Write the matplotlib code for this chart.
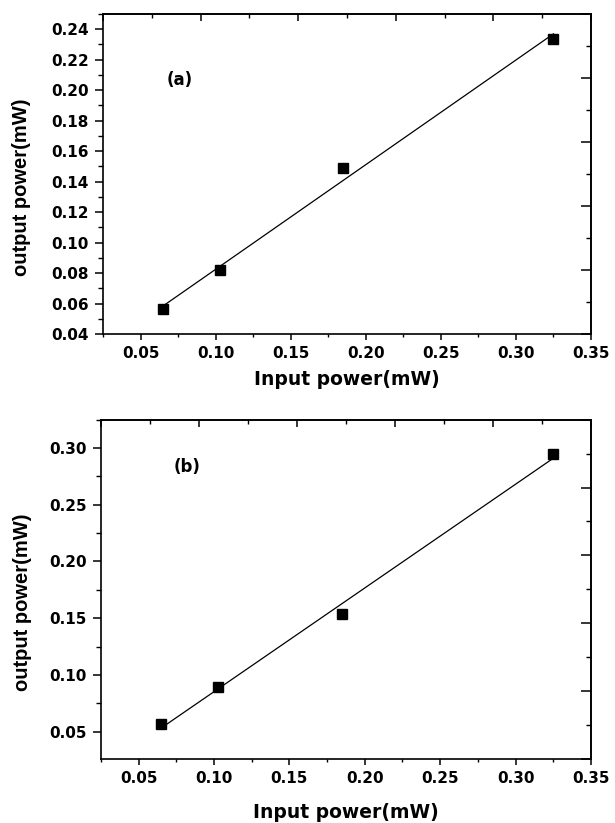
import numpy as np
import matplotlib
matplotlib.use('Agg')
import matplotlib.pyplot as plt
from matplotlib.ticker import MultipleLocator, AutoMinorLocator, FormatStrFormatter

# data
input_power = [0.065, 0.103, 0.185, 0.325]
output_a = [0.0564, 0.082, 0.1488, 0.2337]
output_b = [0.057, 0.089, 0.154, 0.295]

plt.rcParams['font.family'] = ['DejaVu Sans']
plt.rcParams['font.weight'] = 'bold'

fig = plt.figure(figsize=(6.15, 8.23), dpi=100)
ax1 = fig.add_axes([0.1675, 0.594, 0.7935, 0.389])
ax2 = fig.add_axes([0.164, 0.078, 0.797, 0.412])

panels = [
    # ax, y values, tag, ylim, y major step, tag pos, ylabel coords, xlabel y
    (ax1, output_a, '(a)', (0.04, 0.25), 0.02, (0.076, 0.207), (-0.168, 0.458), -0.142),
    (ax2, output_b, '(b)', (0.026, 0.325), 0.05, (0.082, 0.283), (-0.159, 0.463), -0.159),
]

for ax, yvals, tag, ylim, ymaj, tpos, ylc, xly in panels:
    x = np.array(input_power)
    y = np.array(yvals)
    k, b = np.polyfit(x, y, 1)
    ax.plot(x, k * x + b, color='black', lw=0.9)
    ax.plot(x, y, 's', color='black', ms=6.5)
    ax.set_xlim(0.025, 0.35)
    ax.set_ylim(*ylim)

    ax.xaxis.set_major_locator(MultipleLocator(0.05))
    ax.yaxis.set_major_locator(MultipleLocator(ymaj))
    ax.xaxis.set_minor_locator(AutoMinorLocator(2))
    ax.yaxis.set_minor_locator(AutoMinorLocator(2))
    ax.xaxis.set_major_formatter(FormatStrFormatter('%.2f'))
    ax.yaxis.set_major_formatter(FormatStrFormatter('%.2f'))
    ax.tick_params(axis='x', which='major', direction='out', length=4.5, width=1.1,
                   labelsize=11, pad=4)
    ax.tick_params(axis='x', which='minor', direction='out', length=2.5, width=1.0)
    ax.tick_params(axis='y', which='major', direction='out', length=6, width=1.1,
                   labelsize=11, pad=4)
    ax.tick_params(axis='y', which='minor', direction='out', length=3.5, width=1.0)
    for s in ax.spines.values():
        s.set_linewidth(1.2)

    # top / right axes carry their own inward ticks (5 major divisions)
    x0, x1 = ax.get_xlim()
    y0, y1 = ax.get_ylim()
    sx = ax.secondary_xaxis('top')
    sx.set_xticks(np.linspace(x0, x1, 6))
    sx.set_xticks(np.linspace(x0, x1, 11), minor=True)
    sx.tick_params(which='major', direction='in', length=5, width=1.1, labeltop=False)
    sx.tick_params(which='minor', direction='in', length=3, width=1.0)
    sx.spines['top'].set_linewidth(1.2)
    sy = ax.secondary_yaxis('right')
    sy.set_yticks(np.linspace(y0, y1, 6))
    sy.set_yticks(np.linspace(y0, y1, 11), minor=True)
    sy.tick_params(which='major', direction='in', length=7, width=1.1, labelright=False)
    sy.tick_params(which='minor', direction='in', length=3.5, width=1.0)
    sy.spines['right'].set_linewidth(1.2)

    ax.set_xlabel('Input power(mW)', fontsize=13.5, fontweight='bold', va='center')
    ax.xaxis.set_label_coords(0.5, xly)
    ax.set_ylabel('output power(mW)', fontsize=14.5, fontweight='bold',
                  family='Liberation Sans', va='center')
    ax.yaxis.set_label_coords(*ylc)

    ax.text(tpos[0], tpos[1], tag, fontsize=12, fontweight='bold',
            ha='center', va='center')

fig.savefig('out.png', dpi=100)
